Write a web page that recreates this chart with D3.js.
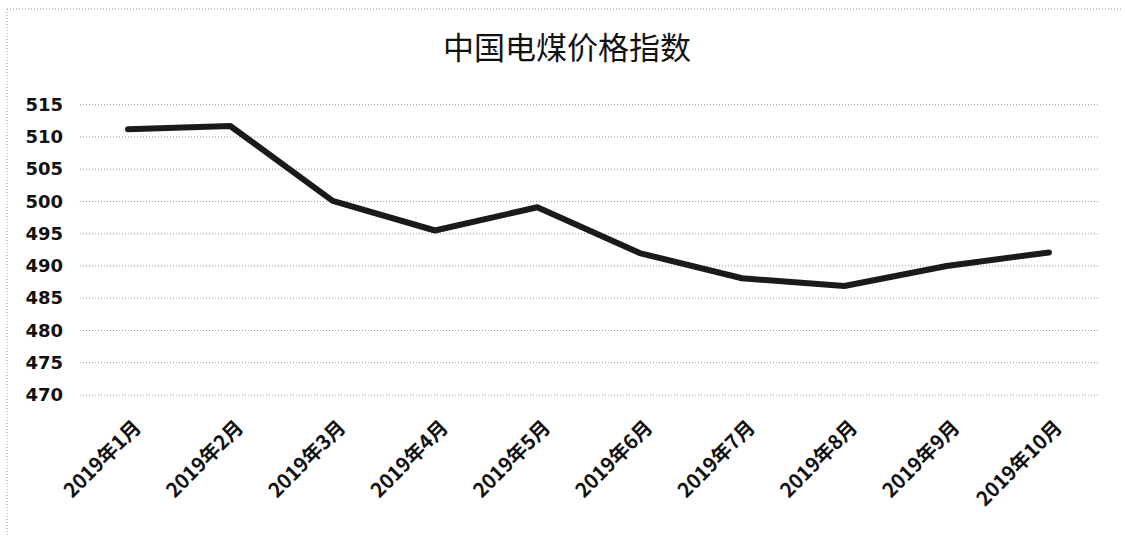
<!DOCTYPE html>
<html><head><meta charset="utf-8">
<script src="https://cdn.jsdelivr.net/npm/d3@7/dist/d3.min.js"></script>
<style>html,body{margin:0;padding:0;background:#fff;}svg{display:block;}</style>
</head><body>
<svg id="c" width="1125" height="536"></svg>
<script>
const title = "中国电煤价格指数";
const categories = ["2019年1月","2019年2月","2019年3月","2019年4月","2019年5月","2019年6月","2019年7月","2019年8月","2019年9月","2019年10月"];
const values = [511.2, 511.7, 500.1, 495.5, 499.1, 492.0, 488.1, 486.9, 490.0, 492.1];
const yTicks = [470, 475, 480, 485, 490, 495, 500, 505, 510, 515];

const svg = d3.select("#c");

// outer dotted border (top and left visible)
svg.append("line").attr("x1",7).attr("x2",1122).attr("y1",9).attr("y2",9)
  .attr("stroke","#999").attr("stroke-width",1).attr("stroke-dasharray","1,2");
svg.append("line").attr("x1",7).attr("x2",7).attr("y1",9).attr("y2",536)
  .attr("stroke","#999").attr("stroke-width",1).attr("stroke-dasharray","1,2");

const x = d3.scalePoint().domain(categories).range([128, 1049]);
const y = d3.scaleLinear().domain([470, 515]).range([395, 104.7]);

// gridlines
const grid = svg.append("g");
grid.selectAll("line").data(yTicks).join("line")
  .attr("x1", 80).attr("x2", 1100)
  .attr("y1", d => y(d)).attr("y2", d => y(d))
  .attr("stroke", "#999").attr("stroke-width", 1).attr("stroke-dasharray", "1,2");

// y axis labels
const yAxis = d3.axisLeft(y).tickValues(yTicks).tickSize(0).tickPadding(0);
const ya = svg.append("g").attr("transform", "translate(63,0)").call(yAxis);
ya.select(".domain").remove();
ya.selectAll("text").attr("font-family","'DejaVu Sans', sans-serif")
  .attr("font-size", 18).attr("font-weight","bold").attr("fill","#111");

// x axis labels
const xAxis = d3.axisBottom(x).tickSize(0).tickPadding(0);
const xa = svg.append("g").attr("transform", "translate(0,395)").call(xAxis);
xa.select(".domain").remove();
xa.selectAll("text")
  .attr("font-family","'Noto Sans CJK SC', sans-serif")
  .attr("font-size", 20).attr("font-weight","bold").attr("fill","#111")
  .attr("text-anchor","end")
  .attr("dy", null).attr("y", null)
  .attr("transform", "translate(10,30) rotate(-45)")
  .attr("dominant-baseline","middle");

// line
const line = d3.line().x((d,i) => x(categories[i])).y(d => y(d));
svg.append("path").datum(values).attr("d", line)
  .attr("fill","none").attr("stroke","#1a1a1a").attr("stroke-width",6)
  .attr("stroke-linejoin","round").attr("stroke-linecap","round");

// title
svg.append("text").attr("x", 567).attr("y", 59).attr("text-anchor","middle")
  .attr("font-family","'Noto Sans CJK SC', sans-serif").attr("font-size", 31)
  .attr("fill","#111").text(title);
</script>
</body></html>
